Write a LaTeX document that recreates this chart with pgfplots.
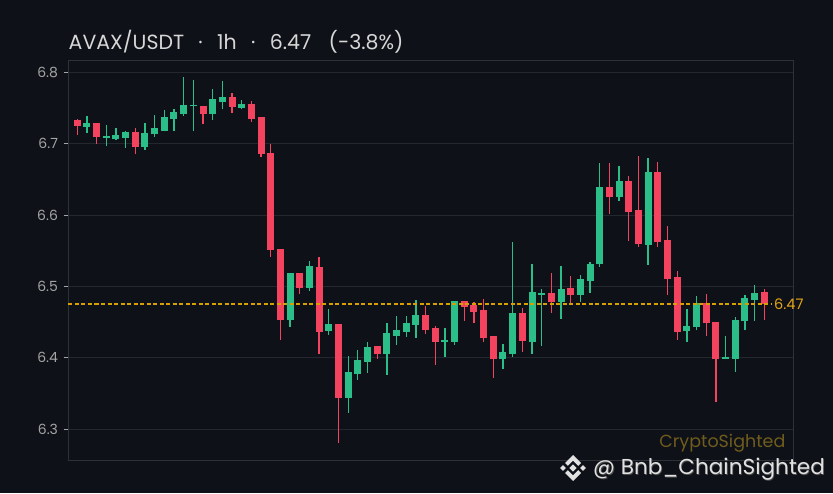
\documentclass[border=0pt]{standalone}
\usepackage{pgfplots}
\usepackage{pgfplotstable}
\pgfplotsset{compat=1.18}
\usepackage{fontspec}
\setmainfont{Poppins}
\definecolor{bg}{RGB}{14,17,24}
\definecolor{gridc}{RGB}{36,39,46}
\definecolor{framec}{RGB}{46,49,56}
\definecolor{labc}{RGB}{165,165,165}
\definecolor{titlec}{RGB}{215,215,215}
\definecolor{up}{RGB}{43,190,137}
\definecolor{down}{RGB}{243,67,94}
\definecolor{pxline}{RGB}{215,160,0}
\definecolor{pricec}{RGB}{232,165,20}
\definecolor{wmc}{RGB}{112,92,28}
\definecolor{hdl}{RGB}{225,225,225}

\pgfplotstableread{
i o h l c
0 6.7330 6.7350 6.7120 6.7250
2 6.7286 6.7290 6.7000 6.7090
6 6.7160 6.7220 6.6860 6.6950
13 6.7526 6.7526 6.7270 6.7410
16 6.7650 6.7710 6.7430 6.7510
18 6.7554 6.7600 6.7300 6.7340
19 6.7370 6.7370 6.6810 6.6855
20 6.6865 6.6990 6.5410 6.5513
21 6.5522 6.5522 6.4250 6.4534
23 6.5186 6.5186 6.4893 6.4981
25 6.5270 6.5410 6.4054 6.4366
27 6.4473 6.4473 6.2813 6.3443
31 6.4166 6.4166 6.3984 6.4058
36 6.4600 6.4725 6.4338 6.4394
37 6.4417 6.4445 6.3900 6.4226
40 6.4795 6.4795 6.4516 6.4716
41 6.4740 6.4781 6.4488 6.4647
42 6.4670 6.4823 6.4228 6.4284
43 6.4307 6.4307 6.3720 6.3977
46 6.4628 6.4698 6.4084 6.4242
49 6.4907 6.5186 6.4628 6.4786
51 6.4977 6.5144 6.4767 6.4884
55 6.6391 6.6726 6.6014 6.6256
57 6.6474 6.6544 6.5637 6.6047
58 6.6070 6.6823 6.5553 6.5600
60 6.6600 6.6740 6.5553 6.5628
61 6.5651 6.5847 6.4884 6.5098
62 6.5135 6.5219 6.4256 6.4358
65 6.4772 6.4898 6.4302 6.4484
66 6.4507 6.4507 6.3381 6.3981
71 6.4926 6.4967 6.4535 6.4758
}\redtab

\pgfplotstableread{
i o h l c
1 6.7235 6.7390 6.7146 6.7286
3 6.7080 6.7260 6.6960 6.7100
4 6.7060 6.7220 6.7050 6.7120
5 6.7080 6.7180 6.6940 6.7160
7 6.6950 6.7290 6.6910 6.7146
8 6.7130 6.7400 6.7090 6.7216
9 6.7180 6.7470 6.7170 6.7370
10 6.7340 6.7480 6.7170 6.7440
11 6.7410 6.7925 6.7385 6.7540
12 6.7520 6.7890 6.7170 6.7544
14 6.7410 6.7770 6.7330 6.7624
15 6.7580 6.7880 6.7480 6.7650
17 6.7500 6.7610 6.7480 6.7554
22 6.4534 6.5186 6.4430 6.5186
24 6.4981 6.5354 6.4935 6.5284
26 6.4380 6.4683 6.4320 6.4473
28 6.3443 6.4026 6.3228 6.3800
29 6.3778 6.4110 6.3690 6.3970
30 6.3946 6.4221 6.3788 6.4152
32 6.4058 6.4487 6.3760 6.4347
33 6.4310 6.4585 6.4180 6.4389
34 6.4366 6.4585 6.4291 6.4487
35 6.4464 6.4809 6.4277 6.4600
38 6.4226 6.4419 6.4005 6.4250
39 6.4228 6.4795 6.4181 6.4795
44 6.3977 6.4195 6.3847 6.4084
45 6.4060 6.5619 6.4014 6.4628
47 6.4228 6.5312 6.4056 6.4921
48 6.4884 6.4963 6.4167 6.4907
50 6.4786 6.5284 6.4544 6.4963
52 6.4884 6.5158 6.4781 6.5102
53 6.5082 6.5345 6.4910 6.5314
54 6.5307 6.6726 6.5274 6.6391
56 6.6256 6.6684 6.6195 6.6474
59 6.5586 6.6795 6.5302 6.6600
63 6.4372 6.4688 6.4219 6.4451
64 6.4428 6.4870 6.4386 6.4772
67 6.3981 6.4312 6.3981 6.4005
68 6.3981 6.4577 6.3800 6.4535
69 6.4512 6.4884 6.4395 6.4842
70 6.4814 6.5023 6.4521 6.4912
}\greentab

\begin{document}
\begin{tikzpicture}
\fill[bg] (0,0) rectangle (833pt,493pt);
\useasboundingbox (0,0) rectangle (833pt,493pt);
\begin{axis}[
  at={(68.5pt,33pt)}, anchor=south west,
  scale only axis, width=724.8pt, height=399.3pt,
  xmin=-0.9, xmax=74, ymin=6.257, ymax=6.816,
  clip=false,
  xtick=\empty,
  ytick={6.3,6.4,6.5,6.6,6.7,6.8},
  ytick pos=left,
  axis line style={draw=framec, line width=0.9pt},
  ymajorgrids, grid style={draw=gridc, line width=0.9pt},
  tick align=outside, major tick length=5pt,
  y tick style={draw=labc, line width=0.9pt},
  yticklabel style={text=labc, font=\fontsize{14}{16}\selectfont, xshift=-2pt},
  /pgf/number format/.cd, fixed, fixed zerofill, precision=1, assume math mode=true,
]
% red wicks
\addplot[draw=none, mark=none, forget plot,
  error bars/.cd, y dir=plus, y explicit, error mark=none,
  error bar style={draw=down, line width=1.3pt}]
  table[x=i, y=l, y error plus expr=\thisrow{h}-\thisrow{l}] {\redtab};
% green wicks
\addplot[draw=none, mark=none, forget plot,
  error bars/.cd, y dir=plus, y explicit, error mark=none,
  error bar style={draw=up, line width=1.3pt}]
  table[x=i, y=l, y error plus expr=\thisrow{h}-\thisrow{l}] {\greentab};
% red bodies
\addplot[draw=none, mark=none, forget plot,
  error bars/.cd, y dir=plus, y explicit, error mark=none,
  error bar style={draw=down, line width=7pt}]
  table[x=i, y=c, y error plus expr=\thisrow{o}-\thisrow{c}] {\redtab};
% green bodies
\addplot[draw=none, mark=none, forget plot,
  error bars/.cd, y dir=plus, y explicit, error mark=none,
  error bar style={draw=up, line width=7pt}]
  table[x=i, y=o, y error plus expr=\thisrow{c}-\thisrow{o}] {\greentab};
% last price line
\addplot[color=pxline, line width=1.3pt, dash pattern=on 4pt off 2.5pt, mark=none, forget plot]
  coordinates {(-0.9,6.4755) (71.7,6.4755)};
\node[anchor=west, text=pricec, font=\fontsize{14.5}{16}\selectfont, inner sep=1pt]
  at (axis cs:71.9,6.4755) {6.47};
\node[anchor=east, text=wmc, font=\fontsize{17.5}{20}\selectfont, inner sep=0pt]
  at (axis cs:73.2,6.281) {CryptoSighted};
\end{axis}
\node[anchor=west, text=titlec, font=\fontsize{20.5}{24}\selectfont, inner sep=0pt]
  at (68.5pt,451pt) {AVAX/USDT\hspace{0.7em}·\hspace{0.7em}1h\hspace{0.7em}·\hspace{0.7em}6.47\hspace{0.85em}(-3.8\%)};
% Binance-like logo
\begin{scope}[shift={(573pt,25pt)}, hdl]
  \fill[rotate=45] (-2.6pt,-2.6pt) rectangle (2.6pt,2.6pt);
  \fill[shift={(-10pt,0)}, rotate=45] (-2pt,-2pt) rectangle (2pt,2pt);
  \fill[shift={(10pt,0)}, rotate=45] (-2pt,-2pt) rectangle (2pt,2pt);
  \fill (0,13pt) -- (8pt,5pt) -- (5.2pt,2.2pt) -- (0,7.4pt) -- (-5.2pt,2.2pt) -- (-8pt,5pt) -- cycle;
  \fill (0,-13pt) -- (8pt,-5pt) -- (5.2pt,-2.2pt) -- (0,-7.4pt) -- (-5.2pt,-2.2pt) -- (-8pt,-5pt) -- cycle;
\end{scope}
\node[anchor=west, text=black!70, font=\fontsize{21.6}{24}\selectfont, inner sep=0pt]
  at (593.8pt,23.2pt) {@ Bnb\_ChainSighted};
\node[anchor=west, text=hdl, font=\fontsize{21.6}{24}\selectfont, inner sep=0pt]
  at (593pt,24pt) {@ Bnb\_ChainSighted};
\end{tikzpicture}
\end{document}
